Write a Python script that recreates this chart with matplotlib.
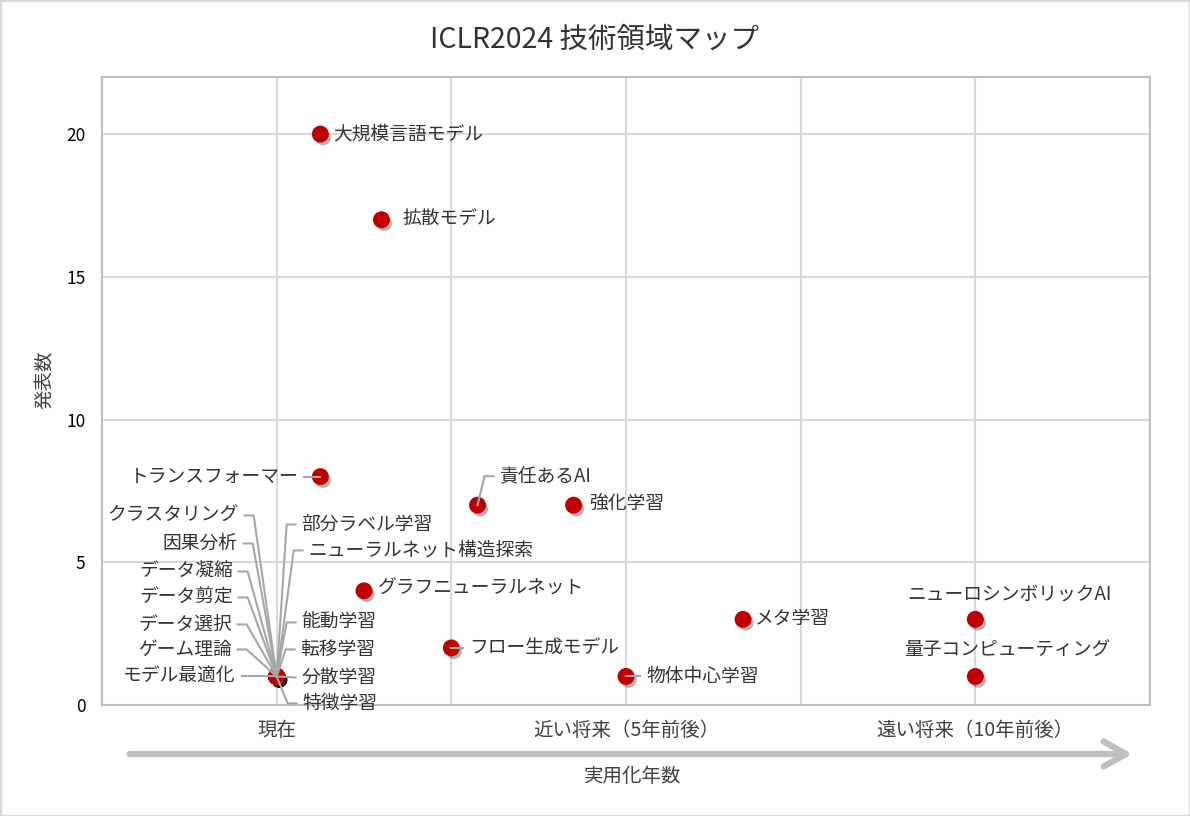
import matplotlib
matplotlib.use("Agg")
import matplotlib.pyplot as plt
import matplotlib.patheffects as pe
from matplotlib.patches import FancyArrowPatch, Rectangle

plt.rcParams['font.family'] = ['Noto Sans CJK JP', 'DejaVu Sans']

# --- Data ---
techs = [
    "大規模言語モデル", "拡散モデル", "トランスフォーマー", "責任あるAI", "強化学習",
    "グラフニューラルネット", "フロー生成モデル", "物体中心学習", "メタ学習",
    "ニューロシンボリックAI", "量子コンピューティング",
    "クラスタリング", "因果分析", "データ凝縮", "データ剪定", "データ選択", "ゲーム理論",
    "モデル最適化", "部分ラベル学習", "ニューラルネット構造探索", "能動学習", "転移学習",
    "分散学習", "特徴学習",
]
years_to_use = [1.25, 1.6, 1.25, 2.15, 2.7, 1.5, 2.0, 3.0, 3.67, 5.0, 5.0,
                1, 1, 1, 1, 1, 1, 1, 1, 1, 1, 1, 1, 1]
n_papers = [20, 17, 8, 7, 7, 4, 2, 1, 3, 3, 1,
            1, 1, 1, 1, 1, 1, 1, 1, 1, 1, 1, 1, 1]

x_ticks = [0, 1, 2, 3, 4, 5, 6]
x_tick_labels = ["", "現在", "", "近い将来（5年前後）", "", "遠い将来（10年前後）", ""]
y_ticks = [0, 5, 10, 15, 20]

# label placement: pixel offset from the point (right, down), alignment, leader line
label_layout = {
    "大規模言語モデル": (13, 0, "left", False),
    "拡散モデル": (21, -1, "left", False),
    "トランスフォーマー": (-22, 0, "right", True),
    "責任あるAI": (22, -29, "left", True),
    "強化学習": (16, -2, "left", False),
    "グラフニューラルネット": (14, -3, "left", False),
    "フロー生成モデル": (18, 0, "left", True),
    "物体中心学習": (20, 0, "left", True),
    "メタ学習": (12, -1, "left", False),
    "ニューロシンボリックAI": (34, -25, "center", False),
    "量子コンピューティング": (32, -26, "center", False),
    "クラスタリング": (-38, -161, "right", True),
    "因果分析": (-39, -133, "right", True),
    "データ凝縮": (-44, -105, "right", True),
    "データ剪定": (-44, -79, "right", True),
    "データ選択": (-45, -52, "right", True),
    "ゲーム理論": (-45, -27, "right", True),
    "モデル最適化": (-41, 0, "right", True),
    "部分ラベル学習": (25, -152, "left", True),
    "ニューラルネット構造探索": (32, -126, "left", True),
    "能動学習": (25, -54, "left", True),
    "転移学習": (24, -27, "left", True),
    "分散学習": (25, 1, "left", True),
    "特徴学習": (26, 27, "left", True),
}

W, H = 1190, 816
fig = plt.figure(figsize=(W / 100, H / 100), dpi=100)
ax = fig.add_axes([102 / W, 1 - 705 / H, (1150 - 102) / W, (705 - 77) / H])

ax.set_xlim(0, 6)
ax.set_ylim(0, 22)
ax.set_xticks(x_ticks)
ax.set_xticklabels(x_tick_labels, fontsize=14, color='#404040')
ax.set_yticks(y_ticks)
ax.tick_params(axis='y', labelsize=12.5, pad=12, length=0)
ax.tick_params(axis='x', pad=11, length=0)
ax.grid(True, color='#d9d9d9', lw=1.5)
ax.set_axisbelow(True)
for s in ax.spines.values():
    s.set_color('#bfbfbf')
    s.set_linewidth(1.5)

shadow = [pe.SimplePatchShadow(offset=(2, -2.5), shadow_rgbFace='black', alpha=0.3), pe.Normal()]
ax.scatter(years_to_use, n_papers, s=125, color='#c00000', zorder=3, path_effects=shadow)

# --- Labels with leader lines ---
inv = ax.transData.inverted()
for name, x, y in zip(techs, years_to_use, n_papers):
    dx, dy, ha, leader = label_layout[name]
    ax.annotate(name, xy=(x, y), xytext=(dx, -dy), textcoords='offset pixels',
                ha=ha, va='center', fontsize=13.5, color='#333333', zorder=5)
    if not leader:
        continue
    px, py = ax.transData.transform((x, y))
    tx, ty = px + dx, py - dy
    sign = 1 if ha == "right" else -1
    edge = (tx + sign * 6, ty)
    if abs(dy) < 4:
        pts = [(px, py), edge]
    else:
        pts = [(px, py), (tx + sign * 15, ty), edge]
    data_pts = inv.transform(pts)
    ax.plot(data_pts[:, 0], data_pts[:, 1], color='#a6a6a6', lw=1.5,
            zorder=4, clip_on=False)

# --- Titles ---
fig.text(0.5, 1 - 40 / H, "ICLR2024 技術領域マップ", ha='center', va='center',
         fontsize=20.5, color='#333333')
fig.text(45 / W, 1 - 380 / H, "発表数", rotation=90, ha='center', va='center',
         fontsize=14, color='#404040')
fig.text(633 / W, 1 - 777 / H, "実用化年数", ha='center', va='center',
         fontsize=14, color='#404040')

# time arrow under the axis
arrow = FancyArrowPatch((127 / W, 1 - 754 / H), (1135 / W, 1 - 754 / H),
                        transform=fig.transFigure,
                        arrowstyle='->,head_length=0.8,head_width=0.45',
                        mutation_scale=20, lw=4.5, color='#bfbfbf',
                        capstyle='round', joinstyle='round')
fig.patches.append(arrow)

# chart border
fig.patches.append(Rectangle((0, 0), 1, 1, transform=fig.transFigure,
                             fill=False, ec='#d9d9d9', lw=2.5))

fig.savefig("out.png", dpi=100)
